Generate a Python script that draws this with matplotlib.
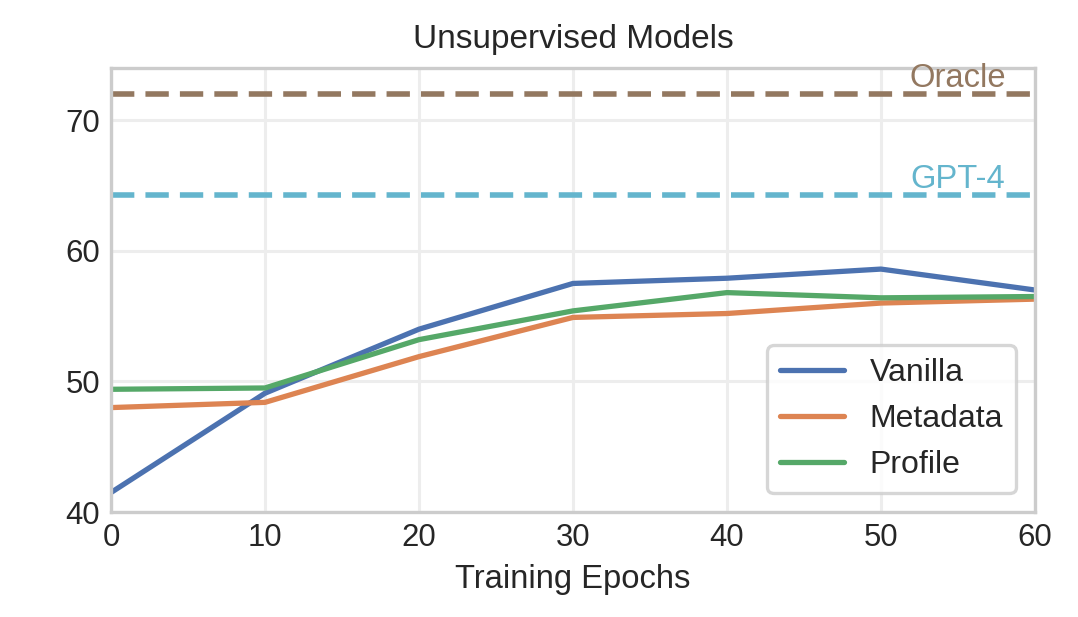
import numpy as np
import matplotlib
matplotlib.use('Agg')
import matplotlib.pyplot as plt
import seaborn as sns

# Data
epochs = [0, 10, 20, 30, 40, 50, 60]
vanilla = [41.5, 49.1, 54.0, 57.5, 57.9, 58.6, 57.0]
metadata = [48.0, 48.4, 51.9, 54.9, 55.2, 56.0, 56.3]
profile = [49.4, 49.5, 53.2, 55.4, 56.8, 56.4, 56.5]
oracle = 72.0
gpt4 = 64.3

sns.set_theme(style='whitegrid', context='notebook')
plt.rcParams['font.family'] = ['Liberation Sans', 'DejaVu Sans']

deep = sns.color_palette('deep')

fig = plt.figure(figsize=(5.39, 3.085), dpi=200)
ax = fig.add_axes([0.103, 0.170, 0.857, 0.720])

ax.plot(epochs, vanilla, color=deep[0], lw=1.9, label='Vanilla')
ax.plot(epochs, metadata, color=deep[1], lw=1.9, label='Metadata')
ax.plot(epochs, profile, color=deep[2], lw=1.9, label='Profile')

ax.axhline(oracle, color=deep[5], lw=2.0, ls=(0, (4.2, 2.0)))
ax.axhline(gpt4, color=deep[9], lw=2.0, ls=(0, (4.2, 2.0)))
ax.text(55, oracle, 'Oracle', color=deep[5], fontsize=11.8,
        ha='center', va='bottom')
ax.text(55, gpt4, 'GPT-4', color=deep[9], fontsize=11.8,
        ha='center', va='bottom')

ax.set_xlim(0, 60)
ax.set_ylim(40, 74)
ax.set_xticks(range(0, 61, 10))
ax.set_yticks(range(40, 71, 10))
ax.tick_params(labelsize=11.2, length=0, pad=4)
ax.grid(True, color='0.93', lw=1.1)
for spine in ax.spines.values():
    spine.set_color('0.8')
    spine.set_linewidth(1.2)

ax.set_title('Unsupervised Models', fontsize=12, pad=7)
ax.set_xlabel('Training Epochs', fontsize=11.8, labelpad=4)
leg = ax.legend(loc='lower right', fontsize=11.5, edgecolor='0.8',
                handlelength=2.0, borderaxespad=0.6)
leg.get_frame().set_linewidth(1.2)

fig.savefig('out.png', dpi=200)
